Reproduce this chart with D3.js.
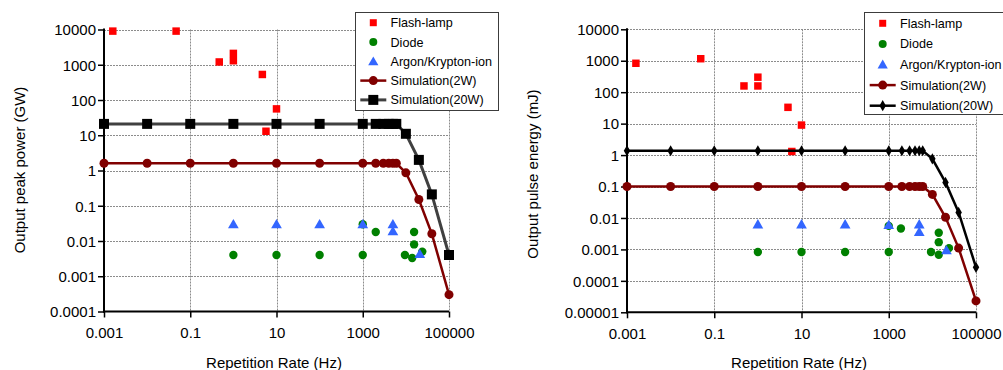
<!DOCTYPE html>
<html>
<head>
<meta charset="utf-8">
<title>Repetition rate vs peak power / pulse energy</title>
<script src="https://cdn.jsdelivr.net/npm/d3@7"></script>
<style>
    html, body { margin: 0; padding: 0; background: #fff; }
    svg { display: block; font-family: "Liberation Sans", Arial, sans-serif; }
    .grid line { stroke: #8c8c8c; stroke-width: 1; stroke-dasharray: 2,1; }
    .tick-label { font-size: 15px; fill: #000; }
    .axis-title { font-size: 15px; fill: #000; }
    .legend text { font-size: 12.6px; fill: #000; }
</style>
</head>
<body>
<div id="chart"></div>
<script>
(function(){
    'use strict';

    // simulation curves share the same repetition rates (Hz)
    var simRate = [0.001, 0.01, 0.1, 1, 10, 100, 1000, 2000, 3000, 4000, 5000, 6000, 10000, 20000, 40000, 100000];

    // left chart: output peak power (GW)
    var sim2WPower  = [1.6, 1.6, 1.6, 1.6, 1.6, 1.6, 1.6, 1.6, 1.6, 1.6, 1.6, 1.6, 0.86, 0.15, 0.016, 0.0003];
    var sim20WPower = [21, 21, 21, 21, 21, 21, 21, 21, 21, 21, 21, 21, 11, 2, 0.21, 0.004];
    var flashRateL  = [0.0016, 0.047, 0.47, 1, 1, 4.7, 5.7, 10];
    var flashPower  = [9000, 9000, 1200, 2100, 1300, 530, 13, 56];
    var diodeRateL  = [1, 10, 100, 1000, 1000, 2000, 9500, 14000, 15500, 15500, 24000];
    var diodePower  = [0.004, 0.004, 0.004, 0.004, 0.03, 0.018, 0.004, 0.0033, 0.018, 0.008, 0.005];
    var argonRateL  = [1, 10, 100, 1000, 5000, 5000, 21000];
    var argonPower  = [0.03, 0.03, 0.03, 0.03, 0.03, 0.019, 0.0043];

    // right chart: output pulse energy (mJ)
    var sim2WEnergy  = [0.1, 0.1, 0.1, 0.1, 0.1, 0.1, 0.1, 0.1, 0.1, 0.1, 0.1, 0.1, 0.056, 0.0105, 0.0011, 0.000023];
    var sim20WEnergy = [1.37, 1.37, 1.37, 1.37, 1.37, 1.37, 1.37, 1.37, 1.37, 1.37, 1.37, 1.37, 0.76, 0.135, 0.015, 0.00027];
    var flashRateR   = [0.0016, 0.049, 0.48, 1, 1, 4.9, 6, 10];
    var flashEnergy  = [830, 1160, 158, 300, 158, 33, 1.3, 9];
    var diodeRateR   = [1, 10, 100, 1000, 1000, 1900, 9300, 14000, 14000, 14000, 24000];
    var diodeEnergy  = [0.00083, 0.00083, 0.00083, 0.00083, 0.0056, 0.0046, 0.00083, 0.00068, 0.0034, 0.0017, 0.0011];
    var argonRateR   = [1, 10, 100, 1000, 5000, 5000, 21000];
    var argonEnergy  = [0.0063, 0.0063, 0.0063, 0.006, 0.0063, 0.0036, 0.00095];

    // tick labels
    var xTicks = [0.001, 0.1, 10, 1000, 100000];
    var xTickLabels = ['0.001', '0.1', '10', '1000', '100000'];
    var yTicksL = [0.0001, 0.001, 0.01, 0.1, 1, 10, 100, 1000, 10000];
    var yTickLabelsL = ['0.0001', '0.001', '0.01', '0.1', '1', '10', '100', '1000', '10000'];
    var yTicksR = [0.00001, 0.0001, 0.001, 0.01, 0.1, 1, 10, 100, 1000, 10000];
    var yTickLabelsR = ['0.00001', '0.0001', '0.001', '0.01', '0.1', '1', '10', '100', '1000', '10000'];

    var legendNames = ['Flash-lamp', 'Diode', 'Argon/Krypton-ion', 'Simulation(2W)', 'Simulation(20W)'];

    var RED = '#ff0000', GREEN = '#008000', BLUE = '#3366ff', MAROON = '#800000';

    var svg = d3.select('#chart').append('svg')
        .attr('width', 1003)
        .attr('height', 370);

    function zip(xs, ys){
        return xs.map(function(x, i){ return {x: x, y: ys[i]}; });
    }

    function makeChart(cfg){
        var x = d3.scaleLog().domain([0.001, 100000]).range([cfg.left, cfg.right]);
        var y = d3.scaleLog().domain([cfg.yTicks[0], 10000]).range([cfg.bottom, cfg.top]);
        var g = svg.append('g');

        // grid
        var grid = g.append('g').attr('class', 'grid');
        grid.selectAll('line.h')
            .data(cfg.yTicks.slice(1)).enter()
            .append('line')
            .attr('x1', cfg.left).attr('x2', cfg.right)
            .attr('y1', function(d){ return Math.round(y(d)) + 0.5; })
            .attr('y2', function(d){ return Math.round(y(d)) + 0.5; });
        grid.selectAll('line.v')
            .data(xTicks.slice(1)).enter()
            .append('line')
            .attr('y1', cfg.top).attr('y2', cfg.bottom)
            .attr('x1', function(d){ return Math.round(x(d)) + 0.5; })
            .attr('x2', function(d){ return Math.round(x(d)) + 0.5; });

        // axes
        var yAxis = d3.axisLeft(y).tickValues(cfg.yTicks).tickSize(6).tickPadding(2)
            .tickFormat(function(d, i){ return cfg.yLabels[i]; });
        var xAxis = d3.axisBottom(x).tickValues(xTicks).tickSize(6).tickPadding(10)
            .tickFormat(function(d, i){ return xTickLabels[i]; });

        var ya = g.append('g').attr('transform', 'translate(' + cfg.left + ',0)').call(yAxis);
        var xa = g.append('g').attr('transform', 'translate(0,' + cfg.bottom + ')').call(xAxis);
        [ya, xa].forEach(function(a){
            a.select('.domain').remove();
            a.selectAll('.tick line').attr('stroke', '#000').attr('stroke-width', 1.5);
            a.selectAll('.tick text').attr('class', 'tick-label').attr('font-size', null).attr('font-family', null);
        });
        ya.selectAll('.tick text').attr('dy', '0.35em');
        g.append('line')
            .attr('x1', cfg.left).attr('x2', cfg.left)
            .attr('y1', cfg.top - 1).attr('y2', cfg.bottom + 1)
            .attr('stroke', '#000').attr('stroke-width', 2);
        g.append('line')
            .attr('x1', cfg.left - 1).attr('x2', cfg.right)
            .attr('y1', cfg.bottom).attr('y2', cfg.bottom)
            .attr('stroke', '#000').attr('stroke-width', 2);

        // titles
        g.append('text').attr('class', 'axis-title')
            .attr('text-anchor', 'middle')
            .attr('x', cfg.xTitleX).attr('y', 368)
            .text('Repetition Rate (Hz)');
        g.append('text').attr('class', 'axis-title')
            .attr('text-anchor', 'middle')
            .attr('transform', 'translate(' + cfg.yTitleX + ',' + cfg.yTitleY + ') rotate(-90)')
            .text(cfg.yTitle);

        var sym = function(type, size){ return d3.symbol().type(type).size(size); };

        // measured data
        g.append('g').selectAll('path')
            .data(zip(cfg.flashRate, cfg.flashVal)).enter()
            .append('path')
            .attr('d', sym(d3.symbolSquare, 56))
            .attr('transform', function(d){ return 'translate(' + x(d.x) + ',' + y(d.y) + ')'; })
            .attr('fill', RED);
        g.append('g').selectAll('circle')
            .data(zip(cfg.diodeRate, cfg.diodeVal)).enter()
            .append('circle')
            .attr('cx', function(d){ return x(d.x); })
            .attr('cy', function(d){ return y(d.y); })
            .attr('r', 4.2)
            .attr('fill', GREEN);
        g.append('g').selectAll('path')
            .data(zip(cfg.argonRate, cfg.argonVal)).enter()
            .append('path')
            .attr('d', sym(d3.symbolTriangle, 50))
            .attr('transform', function(d){ return 'translate(' + x(d.x) + ',' + (y(d.y) + 1) + ')'; })
            .attr('fill', BLUE);

        // simulations
        var line = d3.line()
            .x(function(d){ return x(d.x); })
            .y(function(d){ return y(d.y); });

        var s2 = zip(simRate, cfg.sim2W);
        g.append('path').datum(s2)
            .attr('d', line).attr('fill', 'none')
            .attr('stroke', MAROON).attr('stroke-width', 2.5);
        g.append('g').selectAll('circle')
            .data(s2).enter()
            .append('circle')
            .attr('cx', function(d){ return x(d.x); })
            .attr('cy', function(d){ return y(d.y); })
            .attr('r', 4.5)
            .attr('fill', MAROON);

        var s20 = zip(simRate, cfg.sim20W);
        g.append('path').datum(s20)
            .attr('d', line).attr('fill', 'none')
            .attr('stroke', cfg.s20Line).attr('stroke-width', cfg.s20Width);
        g.append('g').selectAll('path')
            .data(s20).enter()
            .append('path')
            .attr('d', sym(cfg.s20Symbol, cfg.s20Size))
            .attr('transform', function(d){ return 'translate(' + x(d.x) + ',' + y(d.y) + ')'; })
            .attr('fill', '#000');

        // legend
        var lg = g.append('g').attr('class', 'legend');
        lg.append('rect')
            .attr('x', cfg.lgX + 0.5).attr('y', 12.5)
            .attr('width', cfg.lgW).attr('height', cfg.lgH)
            .attr('fill', '#fff').attr('stroke', '#3c3c3c').attr('stroke-width', 1);
        var rows = lg.selectAll('g.row')
            .data(legendNames).enter()
            .append('g')
            .attr('transform', function(d, i){
                return 'translate(' + cfg.lgSymX + ',' + (cfg.lgRow0 + i * cfg.lgStep) + ')';
            });
        rows.append('text')
            .attr('x', cfg.lgTextX - cfg.lgSymX)
            .attr('dy', '0.36em')
            .text(function(d){ return d; });
        rows.each(function(d, i){
            var r = d3.select(this);
            if(i === 0){
                r.append('path').attr('d', sym(d3.symbolSquare, 49)).attr('fill', RED);
            }else if(i === 1){
                r.append('circle').attr('r', 4).attr('fill', GREEN);
            }else if(i === 2){
                r.append('path').attr('d', sym(d3.symbolTriangle, 45)).attr('transform', 'translate(0,1)').attr('fill', BLUE);
            }else if(i === 3){
                r.append('line').attr('x1', -13).attr('x2', 13)
                    .attr('stroke', MAROON).attr('stroke-width', 2.5);
                r.append('circle').attr('r', 4.5).attr('fill', MAROON);
            }else{
                r.append('line').attr('x1', -13).attr('x2', 13)
                    .attr('stroke', cfg.s20Line).attr('stroke-width', cfg.s20Width);
                r.append('path').attr('d', sym(cfg.s20Symbol, cfg.s20Size)).attr('fill', '#000');
            }
        });
    }

    makeChart({
        left: 104, right: 449, top: 29.5, bottom: 311.5,
        yTicks: yTicksL, yLabels: yTickLabelsL,
        yTitle: 'Output peak power (GW)', yTitleX: 25, yTitleY: 170, xTitleX: 274,
        flashRate: flashRateL, flashVal: flashPower,
        diodeRate: diodeRateL, diodeVal: diodePower,
        argonRate: argonRateL, argonVal: argonPower,
        sim2W: sim2WPower, sim20W: sim20WPower,
        s20Line: '#404040', s20Width: 3, s20Symbol: d3.symbolSquare, s20Size: 100,
        lgX: 355, lgW: 143, lgH: 98, lgSymX: 373.3, lgTextX: 390.5, lgRow0: 22.7, lgStep: 19.3
    });

    makeChart({
        left: 627, right: 976, top: 29.3, bottom: 312.3,
        yTicks: yTicksR, yLabels: yTickLabelsR,
        yTitle: 'Output pulse energy (mJ)', yTitleX: 538, yTitleY: 174, xTitleX: 799,
        flashRate: flashRateR, flashVal: flashEnergy,
        diodeRate: diodeRateR, diodeVal: diodeEnergy,
        argonRate: argonRateR, argonVal: argonEnergy,
        sim2W: sim2WEnergy, sim20W: sim20WEnergy,
        s20Line: '#000', s20Width: 2.5, s20Symbol: d3.symbolDiamond, s20Size: 36,
        lgX: 864, lgW: 150, lgH: 102, lgSymX: 882.7, lgTextX: 900, lgRow0: 23.3, lgStep: 20.6
    });
}());
</script>
</body>
</html>
